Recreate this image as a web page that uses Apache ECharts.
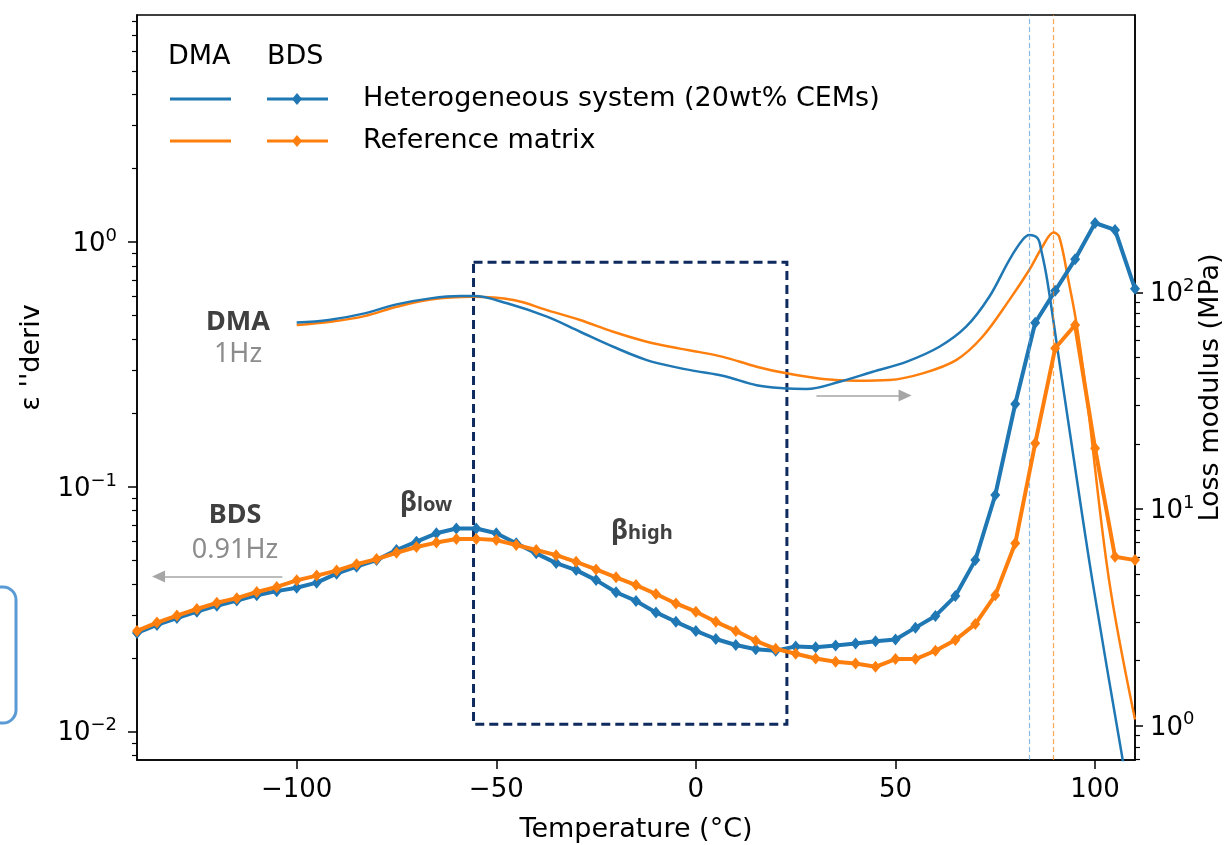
<!DOCTYPE html>
<html>
<head>
<meta charset="utf-8">
<script src="https://cdn.jsdelivr.net/npm/echarts@6/dist/echarts.min.js"></script>
<style>
html,body{margin:0;padding:0;background:#ffffff;}
#chart{width:1225px;height:845px;}
</style>
</head>
<body>
<div id="chart"></div>
<script>
// ---------- DATA ----------
// BDS (left axis, ε''deriv), every 5 °C
const bdsTemps = [-140,-135,-130,-125,-120,-115,-110,-105,-100,-95,-90,-85,-80,-75,-70,-65,-60,-55,-50,-45,-40,-35,-30,-25,-20,-15,-10,-5,0,5,10,15,20,25,30,35,40,45,50,55,60,65,70,75,80,85,90,95,100,105,110];
const bdsHetero = [0.0253,0.0273,0.0291,0.0309,0.0327,0.0343,0.0361,0.0375,0.0387,0.0406,0.0442,0.0472,0.0502,0.0552,0.0597,0.0646,0.0676,0.0676,0.0646,0.0588,0.0535,0.0488,0.0457,0.0416,0.0371,0.0342,0.0307,0.0281,0.0258,0.0239,0.0226,0.0217,0.0214,0.0223,0.0221,0.0225,0.0229,0.0234,0.0238,0.0266,0.0297,0.0358,0.0502,0.0926,0.218,0.468,0.632,0.850,1.196,1.12,0.644];
const bdsRef = [0.0258,0.0279,0.0298,0.0317,0.0336,0.0351,0.0372,0.0390,0.0415,0.0434,0.0455,0.0483,0.0507,0.0538,0.0568,0.0592,0.0612,0.0613,0.0606,0.0579,0.0552,0.0526,0.0494,0.0460,0.0427,0.0397,0.0365,0.0334,0.0309,0.0281,0.0258,0.0235,0.0218,0.0208,0.0199,0.0193,0.0190,0.0184,0.0198,0.0198,0.0214,0.0237,0.0275,0.0361,0.0588,0.1506,0.368,0.458,0.1436,0.0518,0.0502];

// DMA (right axis, loss modulus in MPa)
const dmaHeteroTemps = [-100,-92,-83,-75,-66.5,-59,-55.5,-47.3,-37.3,-29,-20.7,-12.3,-4,0,7,15.2,21.8,27.7,36,44.3,52.7,61,67.7,73.5,78.5,81.8,83.5,85.6,86.5,88,90.8,93.6,99.3,106.8,110];
const dmaHetero = [72.5,74.5,80.0,88.0,93.8,96.1,96.1,89.0,77.2,65.8,56.1,48.7,44.7,43.3,41.1,37.3,36.1,35.8,38.7,43.0,47.8,56.1,69.4,95.4,141,174.3,183.9,177.6,156.7,114,51.4,23.1,4.70,0.717,0.32];
const dmaRefTemps = [-100,-91.5,-83,-75,-66.5,-56,-45.7,-37.3,-29,-20.7,-12.3,-4,1,6.8,15.2,22.7,31.8,40.2,48.5,56.8,65.2,71.8,78.5,83.5,86.8,89.6,91,93.3,95.2,97.7,103.5,110];
const dmaRef = [70.7,73.2,77.7,85.8,92.8,95.4,92.1,82.8,74.5,65.8,59.2,55.0,53.0,50.4,45.4,42.3,39.8,39.1,39.4,42.3,48.7,62.4,92.1,126.8,162.3,188.8,180.6,114,74.5,35.4,4.70,1.07];

// Vertical reference temperatures (DMA loss-modulus peaks)
const peakTemps = [83.5, 89.6];

// Tick labels / positions
const xTicks = [-100,-50,0,50,100];
const leftMajor = [0.01,0.1,1];
const leftMinor = [0.008,0.009,0.02,0.03,0.04,0.05,0.06,0.07,0.08,0.09,0.2,0.3,0.4,0.5,0.6,0.7,0.8,0.9,2,3,4,5,6,7,8];
const rightMajor = [1,10,100];
const rightMinor = [0.7,0.8,0.9,2,3,4,5,6,7,8,9,20,30,40,50,60,70,80,90];

// Region / arrow annotation values
const betaBox = [[-55.7, 0.826],[22.8, 0.01071]];
const bdsArrow = [[-103.6, 0.043],[-134.6, 0.043]];
const dmaArrow = [[30.2, 33.4],[52.4, 33.4]];

// ---------- CHART ----------
const BLUE = '#1f77b4', ORANGE = '#ff7f0e', NAVY = '#0f2a5e', GREY = '#a6a6a6';
const FONT = 'DejaVu Sans';
const ANN = 'Noto Sans';

const pairs = (xs, ys) => xs.map((x, i) => [x, ys[i]]);
const X_MIN = -140, X_MAX = 110;
const L_MIN = 0.00766, L_MAX = 8.46;
const R_MIN = 0.695, R_MAX = 1905;

const inRange = (arr, lo, hi) => arr.filter(v => v >= lo && v <= hi);

function logLabel(v) {
  const e = Math.round(Math.log10(v));
  const s = e < 0 ? '\u2212' + (-e) : '' + e;
  return '{b|10}{s|' + s + '}';
}
const richLog = {
  b: {fontFamily: FONT, fontSize: 26, color: '#000', verticalAlign: 'bottom', lineHeight: 30},
  s: {fontFamily: FONT, fontSize: 18, color: '#000', verticalAlign: 'bottom', lineHeight: 30, padding: [0, 0, 12, 0]}
};

const chart = echarts.init(document.getElementById('chart'), null, {renderer: 'canvas'});

const option = {
  animation: false,
  backgroundColor: '#ffffff',
  grid: {left: 137, right: 90, top: 15, bottom: 85, containLabel: false, outerBoundsMode: 'none',
    show: true, borderColor: '#000', borderWidth: 1.5, backgroundColor: 'transparent'},
  xAxis: {
    type: 'value', min: X_MIN, max: X_MAX,
    name: 'Temperature (°C)', nameLocation: 'middle', nameGap: 56, nameMoveOverlap: false,
    nameTextStyle: {fontFamily: FONT, fontSize: 27, color: '#000'},
    axisLine: {show: true, onZero: false, lineStyle: {color: '#000', width: 1.5}},
    axisTick: {show: true, length: 9, lineStyle: {color: '#000', width: 1.5}, customValues: xTicks},
    axisLabel: {customValues: xTicks, fontFamily: FONT, fontSize: 26, color: '#000', margin: 17,
      formatter: v => v < 0 ? '\u2212' + (-v) : '' + v},
    splitLine: {show: false}
  },
  yAxis: [
    {
      type: 'log', logBase: 10, min: L_MIN, max: L_MAX, position: 'left',
      name: "ε ''deriv", nameLocation: 'middle', nameGap: 92, nameMoveOverlap: false,
      nameTextStyle: {fontFamily: FONT, fontSize: 27, color: '#000', padding: [0, 0, 0, 60]},
      axisLine: {show: true, onZero: false, lineStyle: {color: '#000', width: 1.5}},
      axisTick: {show: true, length: 9, lineStyle: {color: '#000', width: 1.5}, customValues: leftMajor},
      axisLabel: {customValues: leftMajor, margin: 20, formatter: logLabel, rich: richLog},
      splitLine: {show: false}
    },
    {
      type: 'log', logBase: 10, min: R_MIN, max: R_MAX, position: 'right',
      name: 'Loss modulus (MPa)', nameLocation: 'middle', nameGap: 62, nameMoveOverlap: false,
      nameTextStyle: {fontFamily: FONT, fontSize: 27, color: '#000'},
      axisLine: {show: true, onZero: false, lineStyle: {color: '#000', width: 1.5}},
      axisTick: {show: true, length: 8, lineStyle: {color: '#000', width: 1.5}, customValues: rightMajor},
      axisLabel: {customValues: rightMajor, margin: 15, formatter: logLabel, rich: richLog},
      splitLine: {show: false}
    },
    {
      type: 'log', logBase: 10, min: L_MIN, max: L_MAX, position: 'left',
      axisLine: {show: false, onZero: false},
      axisTick: {show: true, length: 5, lineStyle: {color: '#000', width: 1.2}, customValues: inRange(leftMinor, L_MIN, L_MAX)},
      axisLabel: {show: false}, splitLine: {show: false}
    },
    {
      type: 'log', logBase: 10, min: R_MIN, max: R_MAX, position: 'right',
      axisLine: {show: false, onZero: false},
      axisTick: {show: true, length: 5, lineStyle: {color: '#000', width: 1.2}, customValues: inRange(rightMinor, R_MIN, R_MAX)},
      axisLabel: {show: false}, splitLine: {show: false}
    }
  ],
  series: [
    {
      name: 'DMA – Reference matrix', type: 'line', yAxisIndex: 1,
      data: pairs(dmaRefTemps, dmaRef), smooth: 0.35, showSymbol: false, symbol: 'none',
      lineStyle: {color: ORANGE, width: 2.5}, itemStyle: {color: ORANGE}, z: 2,
      markLine: {
        silent: true, symbol: ['none', 'none'], label: {show: false},
        lineStyle: {color: ORANGE, width: 1.2, type: [5, 3], opacity: 0.7},
        data: [{xAxis: peakTemps[1]}]
      }
    },
    {
      name: 'DMA – Heterogeneous system (20wt% CEMs)', type: 'line', yAxisIndex: 1,
      data: pairs(dmaHeteroTemps, dmaHetero), smooth: 0.35, showSymbol: false, symbol: 'none',
      lineStyle: {color: BLUE, width: 2.5}, itemStyle: {color: BLUE}, z: 3,
      markLine: {
        silent: true, symbol: ['none', 'none'], label: {show: false},
        data: [
          {xAxis: peakTemps[0], lineStyle: {color: '#5b9bd5', width: 1.2, type: [5, 3], opacity: 0.7}},
          [
            {coord: dmaArrow[0], symbol: 'none', lineStyle: {color: GREY, width: 1.5, type: 'solid', opacity: 1}},
            {coord: dmaArrow[1], symbol: 'triangle', symbolSize: [12, 13]}
          ]
        ]
      }
    },
    {
      name: 'BDS – Heterogeneous system (20wt% CEMs)', type: 'line', yAxisIndex: 0,
      data: pairs(bdsTemps, bdsHetero), symbol: 'diamond', symbolSize: [10, 12], showSymbol: true,
      lineStyle: {color: BLUE, width: 4}, itemStyle: {color: BLUE}, z: 4,
      markArea: {
        silent: true,
        itemStyle: {color: 'rgba(0,0,0,0)', borderColor: NAVY, borderWidth: 3, borderType: [9, 5]},
        data: [[{coord: betaBox[0]}, {coord: betaBox[1]}]]
      },
      markLine: {
        silent: true, symbol: ['none', 'none'], label: {show: false},
        data: [[
          {coord: bdsArrow[0], symbol: 'none', lineStyle: {color: GREY, width: 1.5, type: 'solid'}},
          {coord: bdsArrow[1], symbol: 'triangle', symbolSize: [12, 13]}
        ]]
      }
    },
    {
      name: 'BDS – Reference matrix', type: 'line', yAxisIndex: 0,
      data: pairs(bdsTemps, bdsRef), symbol: 'diamond', symbolSize: [10, 12], showSymbol: true,
      lineStyle: {color: ORANGE, width: 4}, itemStyle: {color: ORANGE}, z: 5
    }
  ],
  graphic: [
    // legend
    {type: 'text', x: 168, y: 57, style: {text: 'DMA', font: '27px "' + FONT + '"', fill: '#000', verticalAlign: 'middle'}},
    {type: 'text', x: 267, y: 57, style: {text: 'BDS', font: '27px "' + FONT + '"', fill: '#000', verticalAlign: 'middle'}},
    {type: 'line', shape: {x1: 170, y1: 99, x2: 231, y2: 99}, style: {stroke: BLUE, lineWidth: 3}},
    {type: 'line', shape: {x1: 267, y1: 99, x2: 328, y2: 99}, style: {stroke: BLUE, lineWidth: 3}},
    {type: 'polygon', shape: {points: [[297, 93], [302, 99], [297, 105], [292, 99]]}, style: {fill: BLUE}},
    {type: 'text', x: 363, y: 99, style: {text: 'Heterogeneous system (20wt% CEMs)', font: '27px "' + FONT + '"', fill: '#000', verticalAlign: 'middle'}},
    {type: 'line', shape: {x1: 170, y1: 141, x2: 231, y2: 141}, style: {stroke: ORANGE, lineWidth: 3}},
    {type: 'line', shape: {x1: 267, y1: 141, x2: 328, y2: 141}, style: {stroke: ORANGE, lineWidth: 3}},
    {type: 'polygon', shape: {points: [[297, 135], [302, 141], [297, 147], [292, 141]]}, style: {fill: ORANGE}},
    {type: 'text', x: 363, y: 141, style: {text: 'Reference matrix', font: '27px "' + FONT + '"', fill: '#000', verticalAlign: 'middle'}},
    // annotations
    {type: 'text', x: 238, y: 322, style: {text: 'DMA', font: 'bold 27px "' + ANN + '"', fill: '#404040', align: 'center', verticalAlign: 'middle'}},
    {type: 'text', x: 238, y: 354, style: {text: '1Hz', font: '27px "' + ANN + '"', fill: '#8c8c8c', align: 'center', verticalAlign: 'middle'}},
    {type: 'text', x: 235, y: 515, style: {text: 'BDS', font: 'bold 27px "' + ANN + '"', fill: '#404040', align: 'center', verticalAlign: 'middle'}},
    {type: 'text', x: 235, y: 550, style: {text: '0.91Hz', font: '27px "' + ANN + '"', fill: '#8c8c8c', align: 'center', verticalAlign: 'middle'}},
    {type: 'text', x: 400, y: 517, style: {
      text: '{b|β}{s|low}', align: 'left', verticalAlign: 'bottom',
      rich: {
        b: {fontFamily: ANN, fontWeight: 'bold', fontSize: 27, fill: '#404040', verticalAlign: 'bottom', lineHeight: 30},
        s: {fontFamily: ANN, fontWeight: 'bold', fontSize: 20, fill: '#404040', verticalAlign: 'bottom', lineHeight: 30, padding: [0, 0, 2, 0]}
      }}},
    {type: 'text', x: 611, y: 545, style: {
      text: '{b|β}{s|high}', align: 'left', verticalAlign: 'bottom',
      rich: {
        b: {fontFamily: ANN, fontWeight: 'bold', fontSize: 27, fill: '#404040', verticalAlign: 'bottom', lineHeight: 30},
        s: {fontFamily: ANN, fontWeight: 'bold', fontSize: 20, fill: '#404040', verticalAlign: 'bottom', lineHeight: 30, padding: [0, 0, 2, 0]}
      }}},
    // partial rounded frame on the left edge
    {type: 'rect', shape: {x: -22, y: 587, width: 38, height: 136, r: 13}, style: {fill: 'none', stroke: '#5b9bd5', lineWidth: 3}}
  ]
};
chart.setOption(option);
</script>
</body>
</html>
